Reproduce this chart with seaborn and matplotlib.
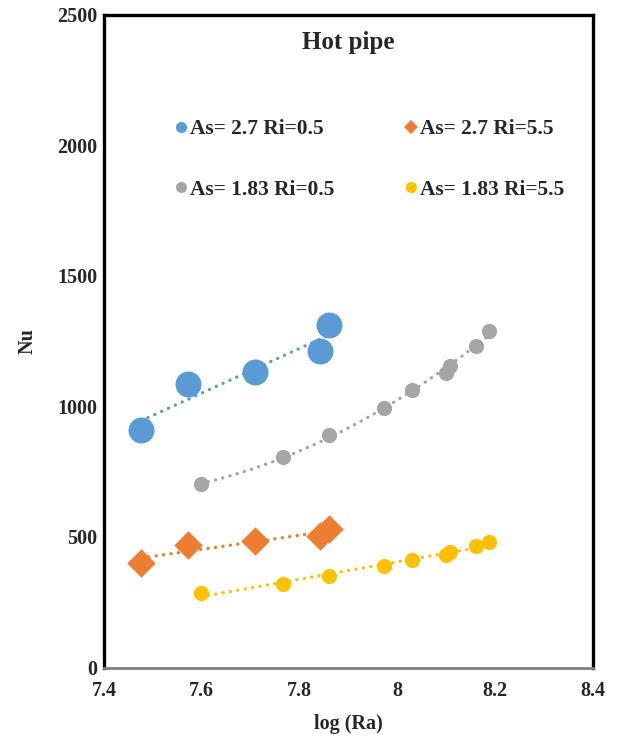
import matplotlib
matplotlib.use("Agg")
import matplotlib.pyplot as plt
from matplotlib.lines import Line2D
import seaborn as sns
import pandas as pd

# ---- data ----
blue_x = [7.476, 7.571, 7.708, 7.841, 7.860]
blue_y = [909, 1085, 1131, 1212, 1311]

orange_x = [7.476, 7.571, 7.708, 7.841, 7.860]
orange_y = [401, 470, 483, 503, 530]

gray_x = [7.598, 7.766, 7.860, 7.973, 8.030, 8.099, 8.108, 8.161, 8.188]
gray_y = [702, 805, 890, 994, 1063, 1130, 1155, 1233, 1289]

yellow_x = [7.598, 7.766, 7.860, 7.973, 8.030, 8.099, 8.108, 8.161, 8.188]
yellow_y = [285, 319, 352, 387, 411, 432, 442, 464, 480]

labels = ["As= 2.7 Ri=0.5", "As= 2.7 Ri=5.5", "As= 1.83 Ri=0.5", "As= 1.83 Ri=5.5"]
colors = ["#5B9BD5", "#ED7D31", "#A5A5A5", "#FFC000"]
x_ticks = [7.4, 7.6, 7.8, 8.0, 8.2, 8.4]
x_tick_labels = ["7.4", "7.6", "7.8", "8", "8.2", "8.4"]
y_ticks = [0, 500, 1000, 1500, 2000, 2500]

sns.set_theme(style="white")
plt.rcParams["font.family"] = ["Liberation Serif", "DejaVu Serif"]
plt.rcParams["font.weight"] = "bold"

fig = plt.figure(figsize=(6.22, 7.40), dpi=100)
ax = fig.add_axes([104 / 622, 1 - 667.5 / 740, (593 - 104) / 622, (667.5 - 15) / 740])

series = [
    (blue_x, blue_y, "o", 350, 1),
    (orange_x, orange_y, "D", 210, 1),
    (gray_x, gray_y, "o", 120, 2),
    (yellow_x, yellow_y, "o", 120, 1),
]
for (xs, ys, mk, s, order), c in zip(series, colors):
    df = pd.DataFrame({"x": xs, "y": ys})
    sns.regplot(data=df, x="x", y="y", ax=ax, ci=None, truncate=True, marker=mk,
                color=c, order=order,
                scatter_kws={"s": s, "linewidths": 0, "alpha": 1, "zorder": 3},
                line_kws={"linestyle": (0, (0.05, 2.2)), "linewidth": 2.4,
                          "dash_capstyle": "round", "zorder": 2})

ax.set_xlim(7.4, 8.4)
ax.set_ylim(0, 2500)
ax.set_xticks(x_ticks)
ax.set_xticklabels(x_tick_labels)
ax.set_yticks(y_ticks)
ax.tick_params(axis="y", length=0, labelsize=14.5, pad=5)
ax.tick_params(axis="x", length=0, labelsize=14.5, pad=10)
for lab in ax.get_xticklabels() + ax.get_yticklabels():
    lab.set_fontweight("bold")
ax.set_xlabel("log (Ra)", fontsize=14.5, fontweight="bold", labelpad=9)
ax.set_ylabel("Nu", fontsize=14.5, fontweight="bold", labelpad=14)

for side in ["left", "top", "right"]:
    ax.spines[side].set_visible(True)
    ax.spines[side].set_color("black")
    ax.spines[side].set_linewidth(2.4)
ax.spines["bottom"].set_color("#7f7f7f")
ax.spines["bottom"].set_linewidth(2.0)

ax.text(0.5, 0.958, "Hot pipe", transform=ax.transAxes, ha="center", va="center",
        fontsize=18, fontweight="bold")

markers = ["o", "D", "o", "o"]
msizes = [8, 7, 8, 8]
handles = [Line2D([], [], linestyle="none", marker=m, markersize=ms, color=c,
                  markeredgewidth=0)
           for m, ms, c in zip(markers, msizes, colors)]
# matplotlib fills legend columns first: order so rows read blue/orange, gray/yellow
order_idx = [0, 2, 1, 3]
leg = ax.legend([handles[i] for i in order_idx], [labels[i] for i in order_idx],
                ncol=2, loc="upper left",
                bbox_to_anchor=((172.5 - 104) / 489, (667.5 - 119) / 652.5),
                frameon=False, borderaxespad=0, borderpad=0,
                prop={"size": 15.4, "weight": "bold"},
                handletextpad=0.0, columnspacing=3.2, labelspacing=1.9,
                handlelength=0.8)

fig.savefig("out.png", dpi=100)
